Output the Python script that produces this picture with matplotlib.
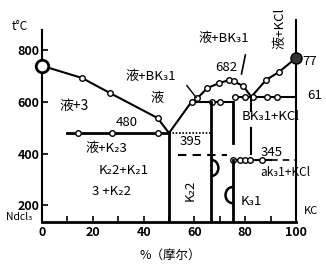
import matplotlib
matplotlib.use("Agg")
import matplotlib.pyplot as plt
from matplotlib.patches import Arc

plt.rcParams['font.family'] = ['Noto Sans CJK SC', 'DejaVu Sans']

# liquidus branches (mol % KCl, t in C)
nd_liq_x = [0, 15.7, 26.7, 45.5, 50]
nd_liq_t = [740, 693, 635, 538, 480]
mid_liq_x = [50, 58.8, 61.2, 65.1, 69.8, 73.7, 75.7, 76.9, 79.2, 82.4]
mid_liq_t = [480, 600, 615, 654, 673, 685, 681, 673, 662, 620]
kcl_liq_x = [82.4, 88.2, 93.3, 100]
kcl_liq_t = [620, 685, 716, 770]

# experimental points on the liquidus
liq_pts_x = [15.7, 26.7, 45.5, 61.2, 65.1, 69.8, 73.7, 75.7, 79.2, 88.2, 93.3]
liq_pts_t = [693, 635, 538, 615, 654, 673, 685, 681, 662, 685, 716]

# invariant lines
eut1_t = 480
eut1_x = [10, 50]
eut1_dot_x = [50, 66.7]
eut1_pts = [14.2, 27.6, 45.7]
per_t = 600
per_x = [58.8, 75]
per_pts = [59, 67, 70]
eut2_t = 620
eut2_x = [75, 100]
eut2_pts = [76, 80, 83, 88.6, 92.5]
tr1_t = 395
tr1_x = [53.5, 73]
tr2_t = 375
tr2_x = [75, 90]
tr2_dash_x = [90, 100]
tr2_pts = [75.2, 78, 80, 82, 86.6]

# compounds: K2NdCl5-like (66.7) and K3NdCl6-like (75)
comp_x = [50, 66.7, 75]
ymin, ymax = 136, 917

fig = plt.figure(figsize=(3.26, 2.65), dpi=100)
ax = fig.add_axes([42/326, 43/265, 254/326, 202/265])
ax.set_xlim(0, 100)
ax.set_ylim(ymin, ymax)

k = 'black'
lw = 1.5
ax.plot(nd_liq_x, nd_liq_t, color=k, lw=lw)
ax.plot(mid_liq_x, mid_liq_t, color=k, lw=lw)
ax.plot(kcl_liq_x, kcl_liq_t, color=k, lw=lw)
ax.plot(liq_pts_x, liq_pts_t, 'o', ms=4, mfc='white', mec=k, mew=1)
ax.plot([nd_liq_x[0]], [nd_liq_t[0]], 'o', ms=9, mfc='white', mec=k, mew=2, clip_on=False, zorder=5)
ax.plot([kcl_liq_x[-1]], [kcl_liq_t[-1]], 'o', ms=8, mfc='#333333', mec=k, mew=1, clip_on=False, zorder=5)

ax.plot(eut1_x, [eut1_t]*2, color=k, lw=2)
ax.plot(eut1_dot_x, [eut1_t]*2, color=k, lw=1.2, ls=(0, (1, 1)))
ax.plot(eut1_pts, [eut1_t]*len(eut1_pts), 'o', ms=4, mfc='white', mec=k, mew=1)
ax.plot(per_x, [per_t]*2, color=k, lw=lw)
ax.plot(per_pts, [per_t]*len(per_pts), 'o', ms=4, mfc='white', mec=k, mew=1)
ax.plot(eut2_x, [eut2_t]*2, color=k, lw=lw)
ax.plot(eut2_pts, [eut2_t]*len(eut2_pts), 'o', ms=4, mfc='white', mec=k, mew=1)
ax.plot(tr1_x, [tr1_t]*2, color=k, lw=1.5, ls=(0, (4, 3)))
ax.plot(tr2_x, [tr2_t]*2, color=k, lw=lw)
ax.plot(tr2_dash_x, [tr2_t]*2, color=k, lw=1.2, ls=(0, (4, 3)))
ax.plot(tr2_pts, [tr2_t]*len(tr2_pts), 'o', ms=4, mfc='white', mec=k, mew=1)

# compound verticals
ax.plot([comp_x[0]]*2, [eut1_t, ymin], color=k, lw=2)
ax.plot([comp_x[1]]*2, [per_t, ymin], color=k, lw=2)
ax.plot([comp_x[2]]*2, [per_t, 440], color=k, lw=2)
ax.plot([comp_x[2]]*2, [tr2_t, ymin], color=k, lw=2)
ax.plot([82.4]*2, [eut2_t, 565], color=k, lw=1.5)
ax.plot([82.4]*2, [500, 400], color=k, lw=1.5)

# transition marks on compound lines
ax.add_patch(Arc((comp_x[1], 345), 5.5, 62, theta1=-90, theta2=90, color=k, lw=1.8))
ax.add_patch(Arc((comp_x[2], 240), 5.5, 62, theta1=90, theta2=270, color=k, lw=1.8))

# pointer lines
ax.annotate('', xy=(61.4, 608), xytext=(56.3, 673), arrowprops=dict(arrowstyle='-', lw=1, color=k))
ax.annotate('', xy=(78.3, 697), xytext=(80.3, 793), arrowprops=dict(arrowstyle='-', lw=1.2, color=k))

# axes styling
ax.spines['top'].set_visible(False)
ax.spines['left'].set_bounds(ymin, 878)
ax.spines['right'].set_bounds(ymin, ymax)
ax.spines['bottom'].set_linewidth(2)
ax.spines['left'].set_linewidth(1.5)
ax.spines['right'].set_linewidth(1.5)
ax.set_xticks([0, 20, 40, 60, 80, 100])
ax.set_xticks([10, 30, 50, 70, 90], minor=True)
ax.set_yticks([200, 400, 600, 800])
ax.tick_params(axis='both', direction='in', length=4, width=1.2, labelsize=9, pad=3)
ax.tick_params(axis='x', which='minor', direction='in', length=4, width=1.2)
ax.tick_params(axis='y', pad=2)
for lab in ax.get_xticklabels() + ax.get_yticklabels():
    lab.set_fontweight('bold')

fs = 9.5
ax.text(12.6, 584, '液+3', fontsize=10, ha='center', va='center')
ax.text(42.9, 697, '液+BK₃1', fontsize=fs, ha='center', va='center')
ax.text(45.3, 615, '液', fontsize=fs, ha='center', va='center')
ax.text(71.7, 847, '液+BK₃1', fontsize=fs, ha='center', va='center')
ax.text(72.4, 735, '682', fontsize=fs, ha='center', va='center')
ax.text(93.7, 886, '液+KCl', fontsize=fs, ha='center', va='center', rotation=90, clip_on=False)
ax.text(105.5, 758, '77', fontsize=fs, ha='center', va='center', clip_on=False)
ax.text(107.5, 627, '61', fontsize=fs, ha='center', va='center', clip_on=False)
ax.text(33.5, 522, '480', fontsize=fs, ha='center', va='center')
ax.text(25.2, 422, '液+K₂3', fontsize=fs, ha='center', va='center')
ax.text(32.3, 337, 'K₂2+K₂1', fontsize=fs, ha='center', va='center')
ax.text(27.2, 252, '3 +K₂2', fontsize=fs, ha='center', va='center')
ax.text(58.7, 449, '395', fontsize=fs, ha='center', va='center')
ax.text(90.2, 542, 'BK₃1+KCl', fontsize=fs, ha='center', va='center', clip_on=False)
ax.text(90.6, 406, '345', fontsize=fs, ha='center', va='center')
ax.text(95.7, 329, 'ak₃1+KCl', fontsize=8.5, ha='center', va='center', clip_on=False)
ax.text(82.3, 217, 'K₃1', fontsize=fs, ha='center', va='center')
ax.text(58.3, 260, 'K₂2', fontsize=fs, ha='center', va='center', rotation=90)
ax.text(105.9, 178, 'KC', fontsize=8, ha='center', va='center', clip_on=False)
ax.text(-9.1, 155, 'Ndcl₃', fontsize=7.5, ha='center', va='center', clip_on=False)

fig.text(20/326, 1 - 27/265, 't°C', fontsize=8.5, ha='center', va='center')
fig.text(170/326, 1 - 255/265, '%（摩尔）', fontsize=9, ha='center', va='center')

fig.savefig('out.png', dpi=100)
